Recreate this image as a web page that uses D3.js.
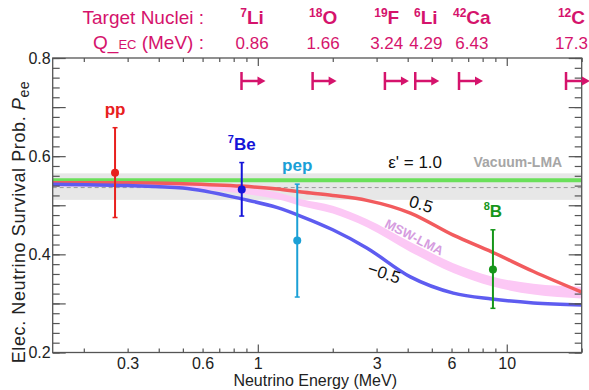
<!DOCTYPE html>
<html>
<head>
<meta charset="utf-8">
<script src="https://cdn.jsdelivr.net/npm/d3@7"></script>
<style>
  html, body { margin: 0; padding: 0; background: #fff; }
  svg { display: block; font-family: "Liberation Sans", Arial, Helvetica, sans-serif; }
</style>
</head>
<body>
<svg id="chart" width="589" height="390"></svg>
<script>
// Solar neutrino survival probability vs energy, with target-nuclei
// thresholds along the top.

// --- data -------------------------------------------------------------
var solarBase   = ['pp', 'Be', 'pep', 'B'];
var solarSup    = ['', '7', '', '8'];
var solarEnergy = [0.267, 0.862, 1.44, 8.8];
var solarPee    = [0.566, 0.532, 0.428, 0.369];
var solarHi     = [0.658, 0.587, 0.543, 0.450];
var solarLo     = [0.475, 0.478, 0.313, 0.290];
var solarColor  = ['#e8201e', '#1414d8', '#1ba0d6', '#16961a'];

var curveEnergy = [0.15, 0.3, 0.5, 0.86, 1.2, 1.5, 2.0, 2.74, 4.1, 6.1, 8.7, 12.8, 20];
var peePlus     = [0.546, 0.546, 0.544, 0.539, 0.533, 0.527, 0.520, 0.510, 0.484, 0.439, 0.405, 0.365, 0.323]; // eps' = 0.5
var peeMinus    = [0.543, 0.540, 0.535, 0.513, 0.495, 0.477, 0.450, 0.413, 0.354, 0.321, 0.309, 0.301, 0.297]; // eps' = -0.5
var mswLo       = [0.538, 0.537, 0.534, 0.524, 0.512, 0.498, 0.483, 0.455, 0.405, 0.362, 0.335, 0.318, 0.310];
var mswHi       = [0.546, 0.545, 0.543, 0.536, 0.526, 0.512, 0.499, 0.472, 0.425, 0.382, 0.355, 0.340, 0.334];
var peeEpsOne   = 0.551;
var vacuumBand  = [0.511, 0.565];
var vacuumMid   = 0.536;

var nucleiName  = ['Li', 'O', 'F', 'Li', 'Ca', 'C'];
var nucleiMass  = ['7', '18', '19', '6', '42', '12'];
var qEC         = [0.86, 1.66, 3.24, 4.29, 6.43, 17.3];
var qLabel      = ['0.86', '1.66', '3.24', '4.29', '6.43', '17.3'];

var energyMinor  = [0.2, 0.3, 0.4, 0.5, 0.6, 0.7, 0.8, 0.9, 2, 3, 4, 5, 6, 7, 8, 9, 20];
var energyMajor  = [1, 10];
var energyLabels = [0.3, 0.6, 1, 3, 6, 10];
var probLabels   = [0.2, 0.4, 0.6, 0.8];

var annoText   = ["\u03b5' = 1.0", 'Vacuum-LMA', '0.5', '\u22120.5', 'MSW-LMA'];
var annoEnergy = [3.34, 16.7, 4.53, 3.22, 4.25];
var annoPee    = [0.576, 0.578, 0.5025, 0.362, 0.435];

// --- layout -----------------------------------------------------------
var L = 52.7, R = 581.7, T = 58, B = 352.5;
var AXIS = '#555';
var MAGENTA = '#d5136c';

var x = d3.scaleLog().domain([0.15, 20]).range([L, R]);
var y = d3.scaleLinear().domain([0.2, 0.8]).range([B, T]);

var svg = d3.select('#chart');
svg.append('defs').append('clipPath').attr('id', 'plot-clip')
  .append('rect').attr('x', L).attr('y', T).attr('width', R - L).attr('height', B - T);

var plot = svg.append('g').attr('clip-path', 'url(#plot-clip)');

// vacuum-LMA band with dashed central value
plot.append('rect')
  .attr('x', L).attr('width', R - L)
  .attr('y', y(vacuumBand[1])).attr('height', y(vacuumBand[0]) - y(vacuumBand[1]))
  .attr('fill', '#e7e7e7');
plot.append('line')
  .attr('x1', L).attr('x2', R).attr('y1', y(vacuumMid)).attr('y2', y(vacuumMid))
  .attr('stroke', '#9a9a9a').attr('stroke-width', 1).attr('stroke-dasharray', '4,3');

// MSW-LMA band
var band = d3.area()
  .x(function (d, i) { return x(curveEnergy[i]); })
  .y0(function (d, i) { return y(mswLo[i]); })
  .y1(function (d, i) { return y(mswHi[i]); })
  .curve(d3.curveMonotoneX);
plot.append('path').datum(curveEnergy).attr('d', band).attr('fill', '#fcc8f5');

// eps' = 1.0
plot.append('line')
  .attr('x1', L).attr('x2', R).attr('y1', y(peeEpsOne)).attr('y2', y(peeEpsOne))
  .attr('stroke', '#6ae05a').attr('stroke-width', 4);

var line = d3.line()
  .x(function (d, i) { return x(curveEnergy[i]); })
  .y(function (d) { return y(d); })
  .curve(d3.curveMonotoneX);
plot.append('path').datum(peePlus).attr('d', line)
  .attr('fill', 'none').attr('stroke', '#f25b5e').attr('stroke-width', 3.5);
plot.append('path').datum(peeMinus).attr('d', line)
  .attr('fill', 'none').attr('stroke', '#5e5cf0').attr('stroke-width', 3.5);

// --- axes: inward ticks on all four sides ---------------------------
function ticks(axis, values, size) {
  var g = svg.append('g');
  g.call(axis.tickValues(values).tickSize(size).tickSizeOuter(0).tickFormat(''));
  g.select('.domain').remove();
  g.selectAll('line').attr('stroke', AXIS).attr('stroke-width', 1.2);
  return g;
}
var probMinor = d3.range(0.2, 0.801, 0.02).map(function (v) { return +v.toFixed(2); });
var probMajor = d3.range(0.2, 0.801, 0.1).map(function (v) { return +v.toFixed(1); });

ticks(d3.axisBottom(x), energyMinor, -4).attr('transform', 'translate(0,' + B + ')');
ticks(d3.axisBottom(x), energyMajor, -8).attr('transform', 'translate(0,' + B + ')');
ticks(d3.axisTop(x), energyMinor, -4).attr('transform', 'translate(0,' + T + ')');
ticks(d3.axisTop(x), energyMajor, -8).attr('transform', 'translate(0,' + T + ')');
ticks(d3.axisLeft(y), probMinor, -7).attr('transform', 'translate(' + L + ',0)');
ticks(d3.axisLeft(y), probMajor, -13).attr('transform', 'translate(' + L + ',0)');
ticks(d3.axisRight(y), probMinor, -7).attr('transform', 'translate(' + R + ',0)');
ticks(d3.axisRight(y), probMajor, -13).attr('transform', 'translate(' + R + ',0)');

svg.append('rect')
  .attr('x', L).attr('y', T).attr('width', R - L).attr('height', B - T)
  .attr('fill', 'none').attr('stroke', AXIS).attr('stroke-width', 1.3);

var xLab = svg.append('g').attr('transform', 'translate(0,' + B + ')')
  .call(d3.axisBottom(x).tickValues(energyLabels).tickSize(0).tickPadding(5).tickFormat(d3.format('~g')));
xLab.select('.domain').remove();
xLab.attr('font-size', 16).attr('font-family', null).selectAll('text').attr('fill', '#222');

var yLab = svg.append('g').attr('transform', 'translate(' + L + ',0)')
  .call(d3.axisLeft(y).tickValues(probLabels).tickSize(0).tickPadding(2).tickFormat(d3.format('.1f')));
yLab.select('.domain').remove();
yLab.attr('font-size', 16).attr('font-family', null).selectAll('text').attr('fill', '#222');

svg.append('text')
  .attr('x', (L + R) / 2 - 2).attr('y', 386)
  .attr('text-anchor', 'middle').attr('font-size', 16).attr('fill', '#222')
  .text('Neutrino Energy (MeV)');

var yTitle = svg.append('text')
  .attr('transform', 'translate(25,222) rotate(-90)')
  .attr('text-anchor', 'middle').attr('font-size', 18).attr('letter-spacing', 0.6)
  .attr('fill', '#222');
yTitle.append('tspan').text('Elec. Neutrino Survival Prob. ');
yTitle.append('tspan').attr('font-style', 'italic').text('P');
yTitle.append('tspan').attr('font-size', 14).attr('dy', 4).text('ee');

// --- annotations ------------------------------------------------------
var annoStyle = [
  { anchor: 'start', size: 17, weight: 'normal', fill: '#111', rot: 0 },
  { anchor: 'end',   size: 14, weight: 'bold',   fill: '#a6a6a6', rot: 0 },
  { anchor: 'middle', size: 17, weight: 'normal', fill: '#111', rot: 17 },
  { anchor: 'middle', size: 17, weight: 'normal', fill: '#111', rot: 18 },
  { anchor: 'middle', size: 13, weight: 'bold',   fill: '#d69ce0', rot: 27 }
];
annoText.forEach(function (t, i) {
  var s = annoStyle[i];
  svg.append('text')
    .attr('transform', 'translate(' + x(annoEnergy[i]) + ',' + y(annoPee[i]) + ') rotate(' + s.rot + ')')
    .attr('text-anchor', s.anchor)
    .attr('dy', s.rot ? '0.35em' : 0)
    .attr('font-size', s.size).attr('font-weight', s.weight).attr('fill', s.fill)
    .text(t);
});

// --- solar data points ------------------------------------------------
solarEnergy.forEach(function (e, i) {
  var g = svg.append('g').attr('stroke', solarColor[i]).attr('fill', solarColor[i]);
  var cx = x(e);
  g.append('line').attr('x1', cx).attr('x2', cx)
    .attr('y1', y(solarLo[i])).attr('y2', y(solarHi[i])).attr('stroke-width', 2);
  [solarLo[i], solarHi[i]].forEach(function (v) {
    g.append('line').attr('x1', cx - 2.5).attr('x2', cx + 2.5)
      .attr('y1', y(v)).attr('y2', y(v)).attr('stroke-width', 1.5);
  });
  g.append('circle').attr('cx', cx).attr('cy', y(solarPee[i])).attr('r', 4).attr('stroke', 'none');

  var label = g.append('text')
    .attr('x', cx).attr('y', y(solarHi[i]) - 13)
    .attr('text-anchor', 'middle').attr('stroke', 'none')
    .attr('font-size', 17).attr('font-weight', 'bold');
  if (solarSup[i]) {
    label.append('tspan').attr('font-size', 11).attr('dy', -7).text(solarSup[i]);
    label.append('tspan').attr('dy', 7).text(solarBase[i]);
  } else {
    label.text(solarBase[i]);
  }
});

// --- threshold arrows and header -------------------------------------
var arrowY = 81;
qEC.forEach(function (q) {
  var ax = x(q);
  var g = svg.append('g').attr('stroke', MAGENTA).attr('fill', MAGENTA).attr('stroke-width', 2.5);
  g.append('line').attr('x1', ax).attr('x2', ax).attr('y1', arrowY - 9).attr('y2', arrowY + 9);
  g.append('line').attr('x1', ax).attr('x2', ax + 17).attr('y1', arrowY).attr('y2', arrowY);
  g.append('path').attr('stroke', 'none')
    .attr('d', 'M' + (ax + 16) + ',' + (arrowY - 4.5) + 'L' + (ax + 24) + ',' + arrowY + 'L' + (ax + 16) + ',' + (arrowY + 4.5) + 'Z');
});

var head = svg.append('g').attr('fill', MAGENTA);
head.append('text').attr('x', 204).attr('y', 24).attr('text-anchor', 'end')
  .attr('font-size', 19).text('Target Nuclei :');
var qHead = head.append('text').attr('x', 204).attr('y', 49).attr('text-anchor', 'end').attr('font-size', 19);
qHead.append('tspan').text('Q_');
qHead.append('tspan').attr('font-size', 13).text('EC');
qHead.append('tspan').text(' (MeV) :');

// one column per nucleus, starting just left of its arrow; crowded
// columns get pushed left, the last one is kept inside the picture
var cols = qEC.map(function (q, i) {
  var name = head.append('text').attr('y', 24).attr('text-anchor', 'middle')
    .attr('font-size', 19).attr('font-weight', 'bold');
  name.append('tspan').attr('font-size', 12).attr('dy', -7).text(nucleiMass[i]);
  name.append('tspan').attr('dy', 7).text(nucleiName[i]);
  var val = head.append('text').attr('y', 49).attr('text-anchor', 'middle')
    .attr('font-size', 17).text(qLabel[i]);
  var w = Math.max(name.node().getComputedTextLength(), val.node().getComputedTextLength());
  return { name: name, val: val, w: w, start: x(q) - 6 };
});
var limit = 588;
for (var i = cols.length - 1; i >= 0; i--) {
  var c = cols[i];
  var end = Math.min(c.start + c.w, limit);
  c.start = end - c.w;
  limit = c.start - 6;
  c.name.attr('x', c.start + c.w / 2);
  c.val.attr('x', c.start + c.w / 2);
}
</script>
</body>
</html>
